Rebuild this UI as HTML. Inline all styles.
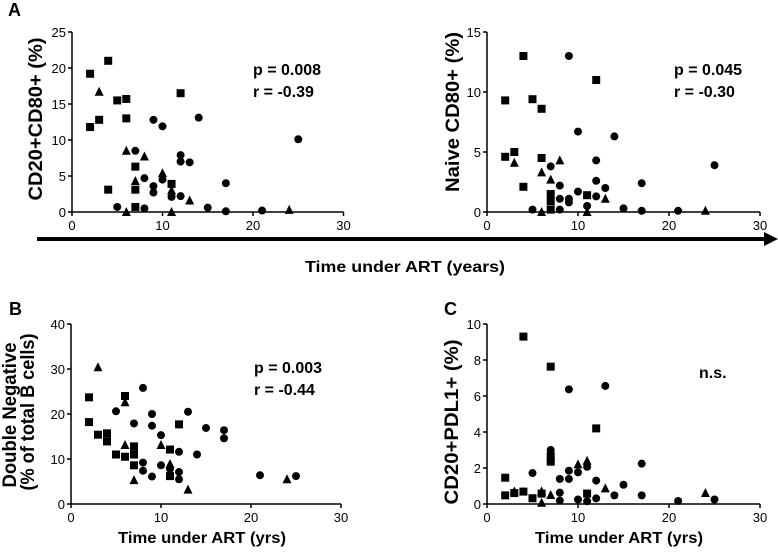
<!DOCTYPE html>
<html><head><meta charset="utf-8">
<style>
html,body{margin:0;padding:0;background:#fff;}
svg{display:block;font-family:"Liberation Sans",sans-serif;}
.tick{font-size:13px;}
.ttl{font-size:16px;font-weight:bold;}
.ytl{font-size:19px;font-weight:bold;}
</style></head>
<body>
<svg id="fig" width="778" height="556" viewBox="0 0 778 556">
  <text x="8" y="16" font-size="18" font-weight="bold">A</text>
  <text x="9" y="315" font-size="18" font-weight="bold">B</text>
  <text x="444" y="315" font-size="18" font-weight="bold">C</text>
  <line x1="37" y1="239" x2="766" y2="239" stroke="#000" stroke-width="4"/>
  <polygon points="764,232 778,239 764,246" fill="#000"/>
  <text class="ttl" x="405" y="272" text-anchor="middle" font-size="17" textLength="200" lengthAdjust="spacingAndGlyphs">Time under ART (years)</text>
  <text class="ttl" x="202" y="543" text-anchor="middle" font-size="17" textLength="168" lengthAdjust="spacingAndGlyphs">Time under ART (yrs)</text>
  <text class="ttl" x="619" y="543" text-anchor="middle" font-size="17" textLength="168" lengthAdjust="spacingAndGlyphs">Time under ART (yrs)</text>
  <text class="ytl" transform="translate(42,119) rotate(-90)" text-anchor="middle" textLength="163" lengthAdjust="spacingAndGlyphs">CD20+CD80+ (%)</text>
  <text class="ytl" transform="translate(459,112) rotate(-90)" text-anchor="middle" textLength="160" lengthAdjust="spacingAndGlyphs">Naive CD80+ (%)</text>
  <text class="ytl" transform="translate(16,415) rotate(-90)" text-anchor="middle" font-size="18" textLength="145" lengthAdjust="spacingAndGlyphs">Double Negative</text>
  <text class="ytl" transform="translate(34,412) rotate(-90)" text-anchor="middle" font-size="18" textLength="157" lengthAdjust="spacingAndGlyphs">(% of total B cells)</text>
  <text class="ytl" transform="translate(458,422) rotate(-90)" text-anchor="middle" textLength="165" lengthAdjust="spacingAndGlyphs">CD20+PDL1+ (%)</text>
  <text class="ttl" x="253" y="75" font-size="17">p = 0.008</text>
  <text class="ttl" x="253" y="97" font-size="17">r = -0.39</text>
  <text class="ttl" x="674" y="75" font-size="17">p = 0.045</text>
  <text class="ttl" x="674" y="97" font-size="17">r = -0.30</text>
  <text class="ttl" x="254" y="373" font-size="17">p = 0.003</text>
  <text class="ttl" x="254" y="395" font-size="17">r = -0.44</text>
  <text class="ttl" x="699" y="378" font-size="17">n.s.</text>
</svg>
<script>
// Panel A1: CD20+CD80+
const a1SquaresX=[2,4,2,3,5,6,6,12,4,7,7,7,11];
const a1SquaresY=[19.2,21,11.8,12.8,15.5,15.7,13,16.5,3.1,6.3,3.1,0.7,3.9];
const a1TrianglesX=[3,6,8,7,10,6,11,13,24,11];
const a1TrianglesY=[16.7,8.5,7.7,4.3,5.4,0,0,1.6,0.3,3];
const a1CirclesX=[5,7,8,8,9,10,9,9,10,11,12,12,12,13,14,15,17,17,21,25];
const a1CirclesY=[0.7,8.5,4.7,0.5,12.8,11.9,3.6,2.7,4.5,2.1,2.2,7.9,7,6.9,13.1,0.6,4,0.1,0.2,10.1];
const a1YTicks=[0,5,10,15,20,25];
// Panel A2: Naive CD80+
const a2SquaresX=[2,4,5,6,2,3,6,4,7,7,7,11,12];
const a2SquaresY=[9.3,13,9.4,8.6,4.6,5,4.5,2.1,1.5,0.9,0.2,1.4,11];
const a2TrianglesX=[3,6,7,8,6,11,13,24];
const a2TrianglesY=[4.1,3.3,2.7,4.3,0,0,1.1,0.1];
const a2CirclesX=[5,7,8,8,8,9,9,9,10,10,11,12,12,12,13,14,15,17,17,21,25];
const a2CirclesY=[0.2,3.8,2.2,1.1,0.2,13,1.1,0.8,6.7,1.7,0.5,4.3,2.6,1.3,2,6.3,0.3,2.4,0.1,0.1,3.9];
const a2YTicks=[0,5,10,15];
// Panel B: Double Negative
const bSquaresX=[2,2,3,4,4,5,6,6,7,7,7,11,12,11];
const bSquaresY=[23.7,18.2,15.4,15.7,13.9,11,24,10.5,12.8,11,8.6,12.1,17.7,6.2];
const bTrianglesX=[3,6,6,7,10,11,13,24];
const bTrianglesY=[30.4,22.6,13.1,5.3,13.1,8.9,3.2,5.5];
const bCirclesX=[5,7,8,8,8,9,9,9,10,10,11,12,12,12,13,14,15,17,17,21,25];
const bCirclesY=[20.6,17.9,25.8,9.2,7.4,20,17.4,6.1,15.3,8.6,7.8,11.6,7.1,5.5,20.5,11,16.9,16.4,14.6,6.4,6.2];
const bYTicks=[0,10,20,30,40];
// Panel C: CD20+PDL1+
const cSquaresX=[2,2,3,4,4,5,6,7,7,7,11,12];
const cSquaresY=[1.46,0.48,0.61,0.69,9.3,0.32,0.58,7.63,2.35,2.6,0.58,4.2];
const cTrianglesX=[3,6,6,7,10,11,13,24];
const cTrianglesY=[0.7,0.07,0.7,0.5,2.2,2.4,0.87,0.61];
const cCirclesX=[5,7,7,8,8,8,9,9,9,10,10,11,11,12,12,13,14,15,17,17,21,25];
const cCirclesY=[1.72,3,2.8,1.39,0.63,0.19,6.37,1.85,1.39,1.76,0.25,2.07,0.15,1.3,0.31,6.56,0.48,1.07,2.24,0.48,0.17,0.25];
const cYTicks=[0,2,4,6,8,10];
const xTicks=[0,10,20,30];

const NS='http://www.w3.org/2000/svg';
const svg=document.getElementById('fig');
function mk(tag,attrs){const e=document.createElementNS(NS,tag);for(const k in attrs)e.setAttribute(k,attrs[k]);svg.appendChild(e);return e;}

function panel(id,x0,pxX,y0,yMax,yTop,yTicks,sx,sy,tx,ty,cx,cy,tickLabY){
  const X=v=>x0+v*pxX;
  const Y=v=>y0-(v/yMax)*(y0-yTop);
  let e=mk('line',{x1:X(0),y1:y0,x2:X(0),y2:yTop,stroke:'#000','stroke-width':1.5});
  
  
  e=mk('line',{x1:X(0),y1:y0,x2:X(30),y2:y0,stroke:'#000','stroke-width':1.5});
  
  
  yTicks.forEach(t=>{
    let l=mk('line',{x1:X(0)-4,y1:Y(t),x2:X(0),y2:Y(t),stroke:'#000','stroke-width':1.5});
    
    
    let s=mk('text',{x:X(0)-6,y:Y(t)+5,'text-anchor':'end',class:'tick'});
    s.textContent=t;
    
    
  });
  xTicks.forEach(t=>{
    let l=mk('line',{x1:X(t),y1:y0,x2:X(t),y2:y0+4,stroke:'#000','stroke-width':1.5});
    
    
    let s=mk('text',{x:X(t),y:tickLabY,'text-anchor':'middle',class:'tick'});
    s.textContent=t;
    
    
  });
  sx.forEach((v,i)=>{
    let m=mk('rect',{x:X(v)-4,y:Y(sy[i])-4,width:8,height:8,fill:'#000'});
    
    
  });
  tx.forEach((v,i)=>{
    const px=X(v),py=Y(ty[i]);
    let m=mk('polygon',{points:(px-4.5)+','+(py+4)+' '+px+','+(py-5)+' '+(px+4.5)+','+(py+4),fill:'#000'});
    
    
  });
  cx.forEach((v,i)=>{
    let m=mk('circle',{cx:X(v),cy:Y(cy[i]),r:4,fill:'#000'});
    
    
  });
}
panel('panel-a1',72,9.05,212,25,32,a1YTicks,a1SquaresX,a1SquaresY,a1TrianglesX,a1TrianglesY,a1CirclesX,a1CirclesY,230);
panel('panel-a2',487,9.1,212,15,32,a2YTicks,a2SquaresX,a2SquaresY,a2TrianglesX,a2TrianglesY,a2CirclesX,a2CirclesY,230);
panel('panel-b',71,9.0,504,40,324,bYTicks,bSquaresX,bSquaresY,bTrianglesX,bTrianglesY,bCirclesX,bCirclesY,522);
panel('panel-c',487,9.1,504,10,324,cYTicks,cSquaresX,cSquaresY,cTrianglesX,cTrianglesY,cCirclesX,cCirclesY,522);
</script>
</body></html>
